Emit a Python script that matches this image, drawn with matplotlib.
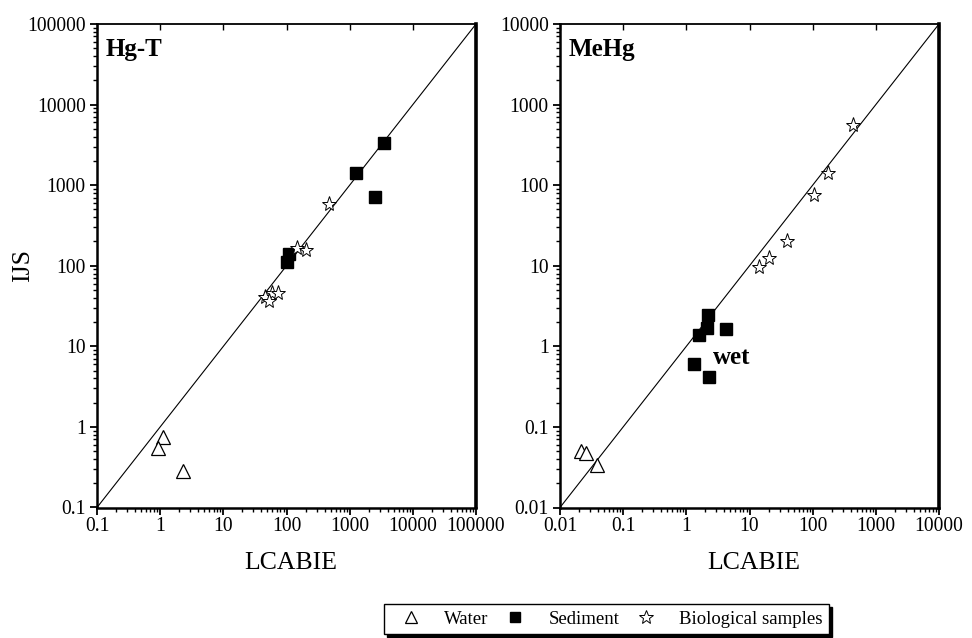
import matplotlib
matplotlib.use("Agg")
import matplotlib.pyplot as plt
from matplotlib.ticker import LogLocator, FuncFormatter, NullFormatter
from matplotlib.lines import Line2D

plt.rcParams['font.family'] = ['Liberation Serif', 'DejaVu Serif']

# Hg-T panel data (LCABIE, IJS)
hgt_water_x = [1.12, 0.93, 2.32]
hgt_water_y = [0.75, 0.54, 0.283]
hgt_sed_x = [3515, 1254, 2478, 108, 101]
hgt_sed_y = [3300, 1400, 703, 138, 111]
hgt_bio_x = [463, 148, 200, 45.5, 58, 74, 52.7]
hgt_bio_y = [581, 164, 156, 40.6, 45.5, 45.5, 36.2]

# MeHg panel data
mehg_water_x = [0.0215, 0.0255, 0.0389]
mehg_water_y = [0.0508, 0.0471, 0.0338]
mehg_sed_x = [2.22, 2.09, 1.60, 4.24, 1.32, 2.30]
mehg_sed_y = [2.47, 1.71, 1.38, 1.63, 0.605, 0.421]
mehg_bio_x = [437, 172, 106, 38.6, 20.3, 14.3]
mehg_bio_y = [558, 143, 75, 20.5, 12.4, 9.57]

panel_titles = ["Hg-T", "MeHg"]
panel_limits = [(0.1, 100000), (0.01, 10000)]
legend_labels = ["Water", "Sediment", "Biological samples"]
x_label = "LCABIE"
y_label = "IJS"

fig = plt.figure(figsize=(9.72, 6.38), dpi=100)
axL = fig.add_axes([97/972, 1-507.5/638, 379/972, 483.5/638])
axR = fig.add_axes([560/972, 1-507.5/638, 379/972, 483.5/638])

fmt = FuncFormatter(lambda v, p: '%g' % v)

def style(ax, lims, title, water, sed, bio, ylab):
    ax.set_xscale('log')
    ax.set_yscale('log')
    ax.set_xlim(*lims)
    ax.set_ylim(*lims)
    ax.plot(lims, lims, color='black', lw=0.8, zorder=1)
    ax.plot(water[0], water[1], linestyle='none', marker='^', ms=10,
            mfc='white', mec='black', mew=0.9, zorder=3)
    ax.plot(sed[0], sed[1], linestyle='none', marker='s', ms=8,
            mfc='black', mec='black', zorder=3)
    ax.plot(bio[0], bio[1], linestyle='none', marker='*', ms=11,
            mfc='white', mec='black', mew=0.7, zorder=4)
    ax.xaxis.set_major_locator(LogLocator(base=10, numticks=20))
    ax.yaxis.set_major_locator(LogLocator(base=10, numticks=20))
    ax.xaxis.set_minor_locator(LogLocator(base=10, subs=range(2, 10), numticks=20))
    ax.yaxis.set_minor_locator(LogLocator(base=10, subs=range(2, 10), numticks=20))
    ax.xaxis.set_major_formatter(fmt)
    ax.yaxis.set_major_formatter(fmt)
    ax.xaxis.set_minor_formatter(NullFormatter())
    ax.yaxis.set_minor_formatter(NullFormatter())
    ax.tick_params(which='major', direction='out', length=5, width=1.3,
                   labelsize=14.1, pad=2, top=False, right=False)
    ax.tick_params(which='minor', direction='out', length=3, width=1.0,
                   top=False, right=False)
    ax.tick_params(axis='y', which='major', pad=3)
    ax.spines['left'].set_linewidth(1.8)
    ax.spines['bottom'].set_linewidth(1.8)
    ax.spines['right'].set_linewidth(2.6)
    ax.spines['top'].set_linewidth(1.3)
    # top inward ticks at decades
    tw = ax.twiny()
    tw.set_xscale('log')
    tw.set_xlim(*lims)
    tw.xaxis.set_major_locator(LogLocator(base=10, numticks=20))
    tw.xaxis.set_minor_locator(LogLocator(base=10, subs=[], numticks=20))
    tw.tick_params(which='major', direction='in', length=4, width=1.0,
                   labeltop=False, top=True)
    tw.tick_params(which='minor', length=0)
    for s in tw.spines.values():
        s.set_visible(False)
    ax.text(0.022, 0.972, title, transform=ax.transAxes, ha='left', va='top',
            fontsize=18, fontweight='bold')
    ax.set_xlabel(x_label, fontsize=18.5)
    ax.xaxis.set_label_coords(0.512, -0.092)
    if ylab:
        ax.set_ylabel(y_label, fontsize=18.5)
        ax.yaxis.set_label_coords(-0.166, 0.5)

style(axL, panel_limits[0], panel_titles[0],
      (hgt_water_x, hgt_water_y), (hgt_sed_x, hgt_sed_y), (hgt_bio_x, hgt_bio_y), True)
style(axR, panel_limits[1], panel_titles[1],
      (mehg_water_x, mehg_water_y), (mehg_sed_x, mehg_sed_y), (mehg_bio_x, mehg_bio_y), False)

axR.text(2.64, 0.72, "wet", ha='left', va='center', fontsize=18, fontweight='bold')

handles = [
    Line2D([], [], linestyle='none', marker='^', ms=9, mfc='white', mec='black', mew=0.9),
    Line2D([], [], linestyle='none', marker='s', ms=7, mfc='black', mec='black'),
    Line2D([], [], linestyle='none', marker='*', ms=10, mfc='white', mec='black', mew=0.7),
]
leg = fig.legend(handles, legend_labels, loc='center', bbox_to_anchor=(606.5/972, 1-619/638),
                 ncol=3, fontsize=13.5, frameon=True, fancybox=False,
                 shadow={'color': 'black', 'alpha': 1.0},
                 edgecolor='black', framealpha=1.0, handlelength=2.2,
                 handletextpad=0.66, columnspacing=0.34, borderpad=0.35)
leg.get_frame().set_linewidth(1.0)

fig.savefig("out.png", dpi=100)
